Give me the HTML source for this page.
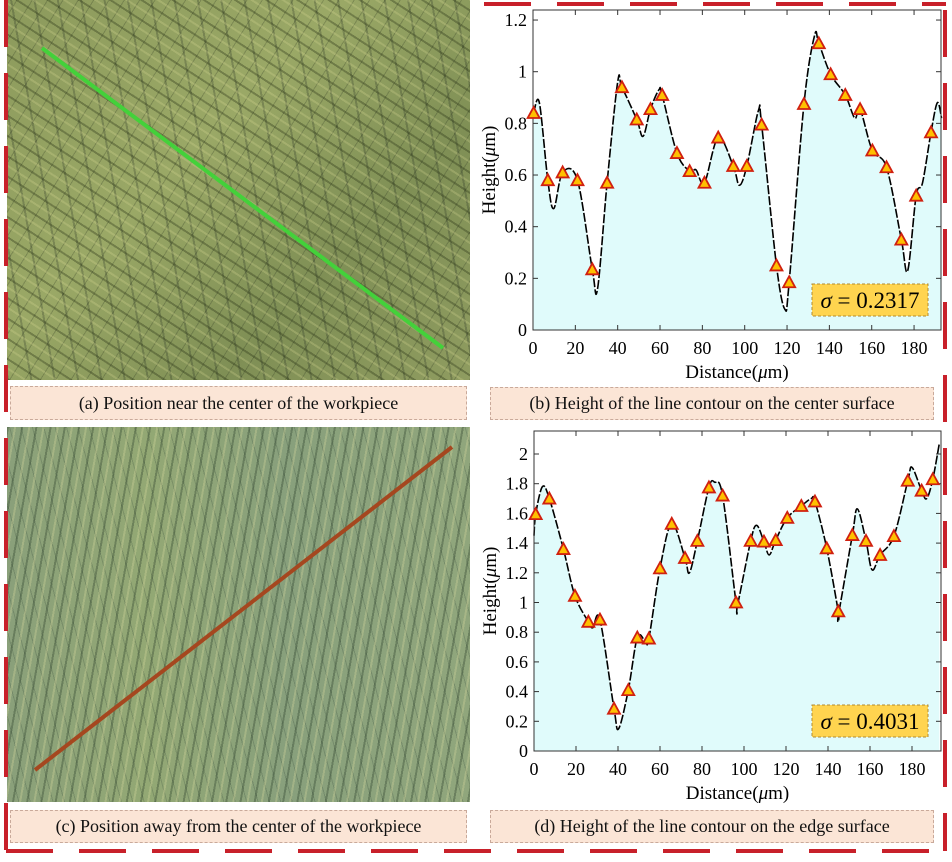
<!DOCTYPE html>
<html><head><meta charset="utf-8"><style>
html,body{margin:0;padding:0;background:#fff;}
body{width:952px;height:862px;position:relative;overflow:hidden;font-family:"Liberation Serif",serif;}
.img{position:absolute;}
.cap{position:absolute;background:#fbe5d6;border:1px dashed #c9a99a;box-sizing:border-box;text-align:center;font-size:18px;color:#111;}
</style></head><body>
<div class="img" style="left:7px;top:0;width:463px;height:380px;background:
repeating-linear-gradient(33deg,rgba(40,50,20,.35) 0 2px,transparent 2px 9px,rgba(220,220,150,.25) 9px 11px,transparent 11px 17px),
repeating-linear-gradient(-58deg,rgba(40,50,30,.25) 0 1px,transparent 1px 13px),
repeating-linear-gradient(80deg,rgba(30,40,30,.25) 0 2px,transparent 2px 23px),
linear-gradient(135deg,#8c9a5c,#9aa866 40%,#7f8f55 70%,#8f9c60);"></div>
<div class="img" style="left:7px;top:427px;width:463px;height:375px;background:
repeating-linear-gradient(100deg,rgba(40,60,40,.35) 0 2px,transparent 2px 7px,rgba(220,220,160,.3) 7px 9px,transparent 9px 14px),
repeating-linear-gradient(75deg,rgba(30,50,40,.2) 0 1px,transparent 1px 11px),
linear-gradient(90deg,#8aa07a,#93a874 30%,#88a07c 60%,#90a67c);"></div>
<svg width="952" height="862" style="position:absolute;left:0;top:0">
<line x1="42" y1="48" x2="443" y2="348" stroke="#43d13a" stroke-width="4"/>
<line x1="35" y1="770" x2="452" y2="447" stroke="#a5471f" stroke-width="4"/>
<g stroke="#c8202a" stroke-width="4" fill="none" stroke-dasharray="47 26">
<line x1="484" y1="4" x2="946" y2="4"/>
<line x1="6" y1="0" x2="6" y2="851"/>
<line x1="945" y1="10" x2="945" y2="851"/>
<line x1="6" y1="851" x2="946" y2="851"/>
</g>
<g id="c1"></g><g id="c2"></g>
</svg>
<div class="cap" style="left:10px;top:386px;width:457px;height:34px;line-height:32px;">(a) Position near the center of the workpiece</div>
<div class="cap" style="left:490px;top:387px;width:444px;height:33px;line-height:31px;">(b) Height of the line contour on the center surface</div>
<div class="cap" style="left:10px;top:810px;width:457px;height:33px;line-height:31px;">(c) Position away from the center of the workpiece</div>
<div class="cap" style="left:490px;top:810px;width:444px;height:33px;line-height:31px;">(d) Height of the line contour on the edge surface</div>
<script>
function chart(id,o){
 var g=document.getElementById(id),s='';
 var X=function(v){return o.x0+(v)*o.sx;},Y=function(v){return o.y0-v*o.sy;};
 var L=o.L,R=o.R,T=o.T,B=o.y0;
 var pts=o.tri.concat(o.ext).sort(function(a,b){return a[0]-b[0];});
 var P=pts.map(function(p){return [X(p[0]),Y(p[1])];});
 var d='M'+P[0][0]+','+P[0][1];
 for(var i=0;i<P.length-1;i++){var p0=P[i-1]||P[i],p1=P[i],p2=P[i+1],p3=P[i+2]||P[i+1];
  var c1x=p1[0]+(p2[0]-p0[0])/6,c1y=p1[1]+(p2[1]-p0[1])/6,c2x=p2[0]-(p3[0]-p1[0])/6,c2y=p2[1]-(p3[1]-p1[1])/6;
  d+=' C'+c1x+','+c1y+' '+c2x+','+c2y+' '+p2[0]+','+p2[1];}
 s+='<rect x="'+L+'" y="'+T+'" width="'+(R-L)+'" height="'+(B-T)+'" fill="#fff"/>';
 s+='<path d="'+d+' L'+P[P.length-1][0]+','+B+' L'+P[0][0]+','+B+'Z" fill="#e0fbfb"/>';
 s+='<path d="'+d+'" fill="none" stroke="#000" stroke-width="1.6" stroke-dasharray="9 2"/>';
 s+='<rect x="'+L+'" y="'+T+'" width="'+(R-L)+'" height="'+(B-T)+'" fill="none" stroke="#333" stroke-width="1"/>';
 for(var v=0;v<=180;v+=20){var x=X(v);s+='<line x1="'+x+'" y1="'+B+'" x2="'+x+'" y2="'+(B-5)+'" stroke="#333"/><line x1="'+x+'" y1="'+T+'" x2="'+x+'" y2="'+(T+5)+'" stroke="#333"/><text x="'+x+'" y="'+(B+24)+'" font-size="18" text-anchor="middle" font-family="Liberation Serif">'+v+'</text>';}
 o.yt.forEach(function(v){var y=Y(v);s+='<line x1="'+L+'" y1="'+y+'" x2="'+(L+5)+'" y2="'+y+'" stroke="#333"/><line x1="'+R+'" y1="'+y+'" x2="'+(R-5)+'" y2="'+y+'" stroke="#333"/><text x="'+(L-6)+'" y="'+(y+6)+'" font-size="18" text-anchor="end" font-family="Liberation Serif">'+v+'</text>';});
 o.tri.forEach(function(p){var x=X(p[0]),y=Y(p[1]);s+='<polygon points="'+x+','+(y-6)+' '+(x+6)+','+(y+5)+' '+(x-6)+','+(y+5)+'" fill="#ffc000" stroke="#d02010" stroke-width="1.8"/>';});
 s+='<rect x="'+o.bx+'" y="'+o.by+'" width="116" height="32" fill="#ffd44f" stroke="#b08a30" stroke-dasharray="3 2"/>';
 s+='<text x="'+(o.bx+58)+'" y="'+(o.by+24)+'" font-size="23" text-anchor="middle" font-family="Liberation Serif"><tspan font-style="italic">σ</tspan> = '+o.sig+'</text>';
 s+='<text x="'+((L+R)/2)+'" y="'+(B+48)+'" font-size="19" text-anchor="middle" font-family="Liberation Serif">Distance(<tspan font-style="italic">μ</tspan>m)</text>';
 var cy=(T+B)/2;
 s+='<text transform="translate('+(L-38)+','+cy+') rotate(-90)" font-size="19" text-anchor="middle" font-family="Liberation Serif">Height(<tspan font-style="italic">μ</tspan>m)</text>';
 g.innerHTML=s;
}
chart('c1',{x0:533,sx:2.117,y0:330,sy:258.3,L:533,R:941,T:10,yt:[0,0.2,0.4,0.6,0.8,1,1.2],bx:812,by:284,sig:'0.2317',
tri:[[0.3,0.84],[7,0.58],[14,0.61],[21,0.58],[28,0.235],[35,0.57],[42,0.94],[49,0.815],[55.5,0.855],[61,0.91],[68,0.685],[74,0.615],[81,0.57],[87.5,0.745],[94.6,0.635],[101,0.635],[108,0.795],[115,0.25],[121,0.185],[128,0.875],[135,1.11],[140.6,0.99],[147.5,0.91],[154.5,0.855],[160.3,0.695],[167,0.63],[174,0.35],[181,0.52],[188,0.765]],
ext:[[3,0.88],[9.8,0.47],[30.5,0.16],[40,0.96],[52,0.75],[59.5,0.93],[77,0.62],[97.5,0.56],[106.5,0.85],[119,0.08],[133,1.14],[152,0.82],[177,0.23],[184,0.57],[191,0.88],[193,0.82]]});
chart('c2',{x0:534,sx:2.1,y0:751,sy:148.5,L:534,R:941,T:431,yt:[0,0.2,0.4,0.6,0.8,1,1.2,1.4,1.6,1.8,2],bx:812,by:705,sig:'0.4031',
tri:[[0.8,1.595],[7.3,1.7],[14,1.36],[19.5,1.045],[25.9,0.87],[31.4,0.885],[38.1,0.285],[44.9,0.41],[49.2,0.764],[54.7,0.757],[60,1.23],[65.6,1.53],[71.9,1.3],[77.8,1.415],[83.3,1.775],[89.8,1.72],[96.2,1.0],[103.2,1.415],[109.5,1.41],[115.1,1.42],[120.6,1.57],[127.3,1.65],[133.8,1.68],[139.4,1.365],[144.9,0.94],[151.6,1.454],[158.1,1.415],[164.8,1.32],[171.4,1.447],[178,1.82],[184.6,1.753],[189.9,1.83]],
ext:[[0,1.45],[4,1.78],[28,0.83],[40.3,0.15],[53,0.74],[74,1.2],[86,1.81],[97,0.99],[106,1.52],[112,1.32],[132,1.7],[145,0.92],[154,1.63],[161,1.22],[180,1.91],[187,1.7],[193,2.07]]});
</script>
</body></html>
